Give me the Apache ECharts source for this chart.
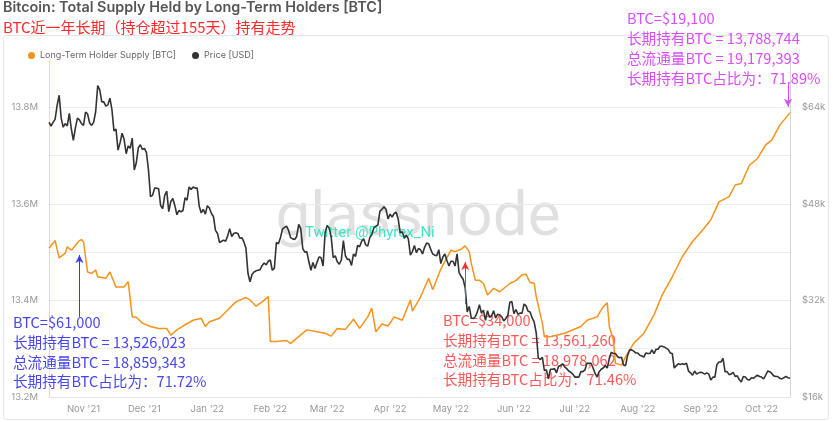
<!DOCTYPE html>
<html><head><meta charset="utf-8">
<script src="https://cdn.jsdelivr.net/npm/echarts@6/dist/echarts.min.js"></script>
<style>html,body{margin:0;padding:0;background:#fff}#c{width:833px;height:422px}</style>
</head><body><div id="c"></div>
<script>
// ---------- DATA ----------
const priceStart = [2021, 9, 15]; // Oct 15 2021, one value per day
const priceK = [
 // Oct 2021 (15-31)
 61.5,60.9,61.5,62.0,64.3,66.0,62.2,60.7,61.3,60.9,63.0,60.4,58.5,60.6,62.2,61.9,61.3,
 // Nov 2021
 61.0,63.2,62.9,61.4,61.0,61.5,63.3,67.6,66.9,64.9,64.9,64.2,64.4,65.5,63.6,60.1,60.4,56.9,58.1,59.7,58.7,56.3,57.6,57.2,58.9,53.6,54.8,57.3,57.8,57.0,
 // Dec 2021
 57.2,56.5,53.6,49.2,49.4,50.6,50.6,50.5,47.7,47.2,49.4,50.1,46.7,48.4,48.9,47.7,46.2,46.9,46.7,46.9,49.0,48.6,50.8,50.4,50.8,50.6,50.6,47.6,46.5,47.1,46.3,
 // Jan 2022
 47.7,47.3,46.4,45.9,43.6,43.1,41.6,41.8,42.0,41.8,42.7,43.9,42.6,43.1,43.2,43.1,42.3,42.4,41.7,40.7,36.5,35.1,36.3,36.7,36.9,37.0,37.1,37.8,38.2,37.9,38.5,
 // Feb 2022
 38.7,37.0,37.3,41.6,41.4,42.4,43.8,44.1,44.3,43.6,42.4,42.2,42.1,42.6,44.6,43.9,40.6,40.0,40.1,38.4,37.0,38.3,37.3,38.3,39.2,39.1,37.7,43.2,
 // Mar 2022
 44.4,44.0,42.5,39.1,39.4,38.4,38.0,38.7,41.9,39.4,38.8,38.8,37.8,39.7,39.3,41.1,40.9,41.8,42.2,41.2,41.0,42.4,42.9,44.0,44.3,44.5,46.8,47.1,47.5,47.1,45.5,
 // Apr 2022
 46.3,45.8,46.4,46.6,45.5,43.2,43.4,42.3,42.8,42.2,39.5,40.1,41.1,39.9,40.6,40.4,39.7,40.8,41.5,41.4,40.5,39.7,39.5,39.4,40.4,38.1,39.2,39.7,38.6,37.7,
 // May 2022
 38.5,38.5,37.7,39.7,36.6,36.0,35.5,34.1,30.1,31.0,29.1,29.0,29.3,30.1,31.3,29.9,30.4,28.7,30.3,29.2,29.4,30.3,29.1,29.7,29.6,29.3,28.6,29.0,29.5,31.7,31.8,
 // Jun 2022
 29.8,30.5,29.7,29.9,29.9,31.4,31.1,30.2,30.1,29.1,28.4,26.6,22.5,22.2,22.6,20.4,20.5,19.0,20.6,20.6,20.7,20.0,21.1,21.2,21.5,21.0,20.7,20.3,20.1,19.8,
 // Jul 2022
 19.3,19.3,19.3,20.2,20.2,20.5,21.6,21.6,21.6,20.8,19.9,19.3,20.2,20.6,20.8,21.2,20.8,22.4,23.4,23.2,23.2,22.7,22.5,22.6,21.3,21.2,22.9,23.8,23.8,23.6,23.3,
 // Aug 2022
 23.3,22.9,22.8,22.6,23.3,23.2,23.2,23.8,23.2,23.9,23.9,24.4,24.4,24.3,24.1,23.9,23.3,23.2,20.8,21.2,21.5,21.4,21.5,21.4,21.6,20.3,20.0,19.6,20.3,19.8,20.0,
 // Sep 2022
 20.1,20.0,19.8,20.0,19.8,18.8,19.3,19.3,21.4,21.8,21.8,22.4,20.2,20.2,19.7,19.8,20.1,19.4,19.5,18.9,18.5,19.4,19.3,18.9,18.8,19.2,19.1,19.4,19.6,19.4,
 // Oct 2022 (1-15)
 19.3,19.0,19.6,20.3,20.2,19.9,19.5,19.4,19.4,19.1,19.0,19.2,19.4,19.2,19.1
];
const lthDates = [
 '2021-10-15','2021-10-18','2021-10-20','2021-10-23','2021-10-24','2021-10-26','2021-10-30','2021-10-31',
 '2021-11-01','2021-11-03','2021-11-05','2021-11-07','2021-11-08','2021-11-12','2021-11-14','2021-11-17','2021-11-21','2021-11-23','2021-11-25','2021-11-27','2021-11-30',
 '2021-12-04','2021-12-08','2021-12-12','2021-12-14','2021-12-17','2021-12-20','2021-12-25','2021-12-29','2021-12-31',
 '2022-01-02','2022-01-07','2022-01-11','2022-01-15','2022-01-20','2022-01-22','2022-01-25','2022-01-28','2022-01-31',
 '2022-02-01','2022-02-04','2022-02-09','2022-02-11','2022-02-15','2022-02-19','2022-02-24','2022-02-28',
 '2022-03-03','2022-03-06','2022-03-10','2022-03-14','2022-03-17','2022-03-21','2022-03-23','2022-03-25','2022-03-28','2022-03-31',
 '2022-04-03','2022-04-07','2022-04-11','2022-04-12','2022-04-16','2022-04-20','2022-04-22','2022-04-26',
 '2022-05-01','2022-05-03','2022-05-06','2022-05-08','2022-05-10','2022-05-11','2022-05-13','2022-05-15','2022-05-17','2022-05-19','2022-05-22','2022-05-25','2022-05-30',
 '2022-06-02','2022-06-05','2022-06-07','2022-06-09','2022-06-11','2022-06-12','2022-06-15','2022-06-16','2022-06-19','2022-06-22','2022-06-26',
 '2022-07-04','2022-07-07','2022-07-12','2022-07-15','2022-07-17','2022-07-18','2022-07-20','2022-07-21','2022-07-24','2022-07-26','2022-07-30',
 '2022-08-04','2022-08-09','2022-08-13','2022-08-18','2022-08-23','2022-08-28',
 '2022-09-02','2022-09-06','2022-09-10','2022-09-15','2022-09-18','2022-09-21','2022-09-25','2022-09-29',
 '2022-10-03','2022-10-06','2022-10-10','2022-10-15'
];
const lthM = [
 13.508,13.524,13.488,13.498,13.511,13.504,13.524,13.526,
 13.521,13.459,13.456,13.463,13.449,13.446,13.459,13.428,13.428,13.439,13.366,13.365,13.353,
 13.346,13.342,13.342,13.328,13.339,13.347,13.359,13.363,13.346,
 13.356,13.363,13.380,13.397,13.406,13.401,13.388,13.397,13.408,
 13.315,13.315,13.317,13.311,13.325,13.339,13.335,13.332,
 13.326,13.342,13.340,13.361,13.342,13.366,13.384,13.335,13.351,13.347,
 13.366,13.359,13.401,13.378,13.407,13.446,13.422,13.465,
 13.504,13.501,13.506,13.513,13.501,13.477,13.442,13.442,13.435,13.411,13.425,13.418,13.435,
 13.441,13.453,13.454,13.437,13.435,13.408,13.353,13.325,13.325,13.328,13.332,
 13.346,13.359,13.366,13.387,13.395,13.346,13.318,13.270,13.266,13.283,13.311,
 13.332,13.370,13.411,13.449,13.491,13.522,
 13.546,13.567,13.604,13.615,13.639,13.642,13.680,13.694,
 13.722,13.732,13.763,13.789
];
const leftTicksM = [13.2, 13.4, 13.6, 13.8];
const rightTicksK = [16, 32, 48, 64];
const seriesNames = ['Long-Term Holder Supply [BTC]', 'Price [USD]'];
// annotation arrows: [date, fromValueM, toValueM]
const blueArrow = ['2021-10-30', 13.366, 13.494];
const redArrow = ['2022-05-08', 13.3925, 13.4795];
const pinkArrow = ['2022-10-14', 13.850, 13.801];
const blueText = 'BTC=$61,000\n长期持有BTC = 13,526,023\n总流通量BTC = 18,859,343\n长期持有BTC占比为：71.72%';
const redText = 'BTC=$34,000\n长期持有BTC = 13,561,260\n总流通量BTC = 18,978,062\n长期持有BTC占比为：71.46%';
const pinkText = 'BTC=$19,100\n长期持有BTC = 13,788,744\n总流通量BTC = 19,179,393\n长期持有BTC占比为：71.89%';

// ---------- BUILD ----------
function dayStr(i){
  const d = new Date(priceStart[0], priceStart[1], priceStart[2] + i);
  return d.getFullYear()+'-'+String(d.getMonth()+1).padStart(2,'0')+'-'+String(d.getDate()).padStart(2,'0');
}
const ts = s => { const p = s.split('-').map(Number); return +new Date(p[0], p[1]-1, p[2]); };
const priceData = priceK.map((v,i) => [ts(dayStr(i)), v*1000]);
const lthData = lthDates.map((d,i) => [ts(d), lthM[i]*1e6]);
function arrow(a, color){
  return [
    {coord:[ts(a[0]), a[1]*1e6], symbol:'none', lineStyle:{color:color, width:1, type:'solid'}},
    {coord:[ts(a[0]), a[2]*1e6], symbol:'arrow', symbolSize:[6,8]}
  ];
}
const CJK = '"Noto Sans CJK SC", sans-serif';
const chart = echarts.init(document.getElementById('c'));
chart.setOption({
  animation:false,
  backgroundColor:'#fff',
  title:[
    {text:'Bitcoin: Total Supply Held by Long-Term Holders [BTC]', left:3, top:1, padding:0,
     textStyle:{fontSize:14.4, fontWeight:600, color:'#555', fontFamily:'Inter, sans-serif'}},
    {text:'BTC近一年长期（持仓超过155天）持有走势', left:3, top:20, padding:0,
     textStyle:{fontSize:15, fontWeight:'normal', color:'#ff2a2a', fontFamily:CJK}}
  ],
  legend:{data:seriesNames, left:23, top:46, icon:'circle', itemWidth:7, itemHeight:7, itemGap:16,
    textStyle:{fontSize:9, color:'#666', fontFamily:'Inter, sans-serif'}},
  grid:{left:49, right:43, top:59, bottom:25},
  xAxis:{type:'time', min:ts('2021-10-15'), max:ts('2022-10-15'), splitNumber:12,
    axisLine:{lineStyle:{color:'#e4e4e4'}}, axisTick:{show:false}, splitLine:{show:false},
    axisLabel:{color:'#999', fontSize:9.5, margin:7, fontFamily:'Inter, sans-serif', formatter:"{MMM} '{yy}",
      showMinLabel:false, showMaxLabel:false}},
  yAxis:[
    {type:'value', position:'left', min:13.2e6, max:13.9e6, interval:1e5,
     axisLine:{show:true, lineStyle:{color:'rgba(247,147,26,0.35)'}}, axisTick:{show:false},
     splitLine:{show:true, showMaxLine:false, showMinLine:false, lineStyle:{color:'#ededed'}},
     axisLabel:{color:'#999', fontSize:9.5, margin:11, padding:[0,0,8,0], fontFamily:'Inter, sans-serif',
       formatter:v => leftTicksM.some(t => Math.abs(t*1e6 - v) < 1) ? (v/1e6).toFixed(1)+'M' : ''}},
    {type:'value', position:'right', min:16000, max:72000, interval:8000,
     axisLine:{show:true, lineStyle:{color:'#d4d4d4'}}, axisTick:{show:false}, splitLine:{show:false},
     axisLabel:{color:'#999', fontSize:9.5, margin:12, padding:[0,0,8,0], fontFamily:'Inter, sans-serif',
       formatter:v => rightTicksK.includes(Math.round(v/1000)) ? '$'+Math.round(v/1000)+'k' : ''}}
  ],
  graphic:[
    {type:'rect', z:-10, shape:{x:3.5, y:35.5, width:825, height:384, r:3}, style:{fill:'none', stroke:'#e6e6e6', lineWidth:1}},
    {type:'text', z:0, x:418, y:219, style:{text:'glassnode', fill:'rgba(0,0,0,0.12)', fontSize:62, fontFamily:'Roboto, sans-serif', align:'center', verticalAlign:'middle'}},
    {type:'text', z:1, x:305, y:233, style:{text:'Twitter @Phyrex_Ni', fill:'#3ce8c4', fontSize:15, fontFamily:'Roboto, sans-serif', verticalAlign:'middle'}},
    {type:'text', z:10, x:13, y:313, style:{text:blueText, fill:'#4646f5', fontSize:14.6, lineHeight:19.7, fontFamily:CJK, verticalAlign:'top'}},
    {type:'text', z:1, x:443, y:311, style:{text:redText, fill:'rgba(255,45,45,0.8)', fontSize:14.6, lineHeight:19.7, fontFamily:CJK, verticalAlign:'top'}},
    {type:'text', z:10, x:627, y:8, style:{text:pinkText, fill:'#d94dff', fontSize:14.6, lineHeight:20, fontFamily:CJK, verticalAlign:'top'}}
  ],
  series:[
    {name:seriesNames[0], type:'line', yAxisIndex:0, data:lthData, showSymbol:false, symbol:'none',
     lineStyle:{color:'#f7931a', width:1.5}, itemStyle:{color:'#f7931a'}, z:2, silent:true,
     markLine:{silent:true, animation:false, label:{show:false}, symbolSize:[6,8],
       data:[arrow(blueArrow,'#3a3aff'), arrow(redArrow,'#ff3030'), arrow(pinkArrow,'#d94dff')]}},
    {name:seriesNames[1], type:'line', yAxisIndex:1, data:priceData, showSymbol:false, symbol:'none',
     lineStyle:{color:'#333', width:1.6}, itemStyle:{color:'#333'}, z:3, silent:true}
  ]
});
</script></body></html>
